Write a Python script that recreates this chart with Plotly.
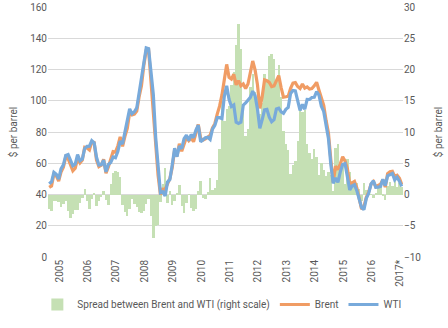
import plotly.graph_objects as go

# Monthly data, Jan 2005 - Jun 2017 ($ per barrel)
brent = [
    44.51, 45.48, 53.10, 51.88, 48.65, 54.35, 57.52, 63.98, 62.91, 58.54, 55.24, 56.86,
    62.99, 60.21, 62.06, 70.26, 69.78, 68.56, 73.67, 73.23, 61.96, 57.81, 58.76, 62.47,
    53.68, 57.56, 62.05, 67.49, 67.21, 71.05, 76.93, 70.76, 77.17, 82.34, 92.41, 90.93,
    91.45, 93.39, 102.59, 109.64, 122.80, 132.32, 132.72, 113.24, 97.23, 71.58, 52.45, 39.95,
    43.44, 43.32, 46.54, 50.18, 57.30, 68.61, 64.44, 72.51, 67.65, 72.77, 76.66, 74.46,
    76.17, 73.75, 78.83, 84.82, 75.95, 74.76, 75.58, 77.04, 77.84, 82.67, 85.28, 91.45,
    96.52, 103.72, 114.64, 123.26, 114.99, 113.83, 116.97, 110.22, 112.83, 109.55, 110.77, 107.87,
    110.69, 119.33, 125.45, 119.75, 110.34, 95.16, 102.62, 113.36, 112.86, 111.71, 109.06, 109.49,
    112.96, 116.05, 108.47, 102.25, 102.56, 102.92, 107.93, 111.28, 111.60, 109.08, 107.79, 110.76,
    108.12, 108.90, 107.48, 107.76, 109.54, 111.80, 106.77, 101.61, 97.09, 87.43, 79.44, 62.34,
    47.76, 58.10, 55.89, 59.52, 64.08, 61.48, 56.56, 46.52, 47.62, 48.43, 44.27, 38.01,
    30.70, 32.18, 38.21, 41.58, 46.74, 48.25, 44.95, 45.84, 46.57, 49.52, 44.73, 53.31,
    54.58, 54.87, 51.59, 52.31, 50.33, 46.37,
]
wti = [
    46.84, 48.15, 54.19, 52.98, 49.83, 56.35, 59.00, 64.99, 65.59, 62.26, 58.32, 59.41,
    65.49, 61.63, 62.69, 69.44, 70.84, 70.95, 74.41, 73.04, 63.80, 58.89, 59.08, 61.96,
    54.51, 59.28, 60.44, 63.98, 63.46, 67.49, 74.12, 72.36, 79.92, 85.80, 94.77, 91.69,
    92.97, 95.39, 105.45, 112.58, 125.40, 133.88, 133.37, 116.67, 104.11, 76.61, 57.31, 41.12,
    41.71, 39.09, 47.94, 49.65, 59.03, 69.64, 64.15, 71.05, 69.41, 75.72, 77.99, 74.47,
    78.33, 76.39, 81.20, 84.29, 73.74, 75.34, 76.32, 76.60, 75.24, 81.89, 84.25, 89.15,
    89.17, 88.58, 102.86, 109.53, 100.90, 96.26, 97.30, 86.33, 85.52, 86.32, 97.16, 98.56,
    100.27, 102.20, 106.16, 103.32, 94.66, 82.30, 87.90, 94.13, 94.51, 89.49, 86.53, 87.86,
    94.76, 95.31, 92.94, 92.02, 94.51, 95.77, 104.67, 106.57, 106.29, 100.54, 93.86, 97.63,
    94.62, 100.82, 100.80, 102.07, 102.18, 105.79, 103.59, 96.54, 93.21, 84.40, 75.79, 59.29,
    47.22, 50.58, 47.82, 54.45, 59.27, 59.82, 50.90, 42.87, 45.48, 46.22, 42.44, 37.19,
    31.68, 30.32, 37.55, 40.75, 46.71, 48.76, 44.65, 44.72, 45.18, 49.78, 45.66, 51.97,
    52.50, 53.47, 49.33, 51.06, 48.48, 45.18,
]
spread = [
    -2.33, -2.67, -1.09, -1.10, -1.18, -2.00, -1.48, -1.01, -2.68, -3.72, -3.08, -2.55,
    -2.50, -1.42, -0.63, 0.82, -1.06, -2.39, -0.74, 0.19, -1.84, -1.08, -0.32, 0.51,
    -0.83, -1.72, 1.61, 3.51, 3.75, 3.56, 2.81, -1.60, -2.75, -3.46, -2.36, -0.76,
    -1.52, -2.00, -2.86, -2.94, -2.60, -1.56, -0.65, -3.43, -6.88, -5.03, -4.86, -1.17,
    1.73, 4.23, -1.40, 0.53, -1.73, -1.03, 0.29, 1.46, -1.76, -2.95, -1.33, -0.01,
    -2.16, -2.64, -2.37, 0.53, 2.21, -0.58, -0.74, 0.44, 2.60, 0.78, 1.03, 2.30,
    7.35, 15.14, 11.78, 13.73, 14.09, 17.57, 19.67, 23.89, 27.31, 23.23, 13.61, 9.31,
    10.42, 17.13, 19.29, 16.43, 15.68, 12.86, 14.72, 19.23, 18.35, 22.22, 22.53, 21.63,
    18.20, 20.74, 15.53, 10.23, 8.05, 7.15, 3.26, 4.71, 5.31, 8.54, 13.93, 13.13,
    13.50, 8.08, 6.68, 5.69, 7.36, 6.01, 3.18, 5.07, 3.88, 3.03, 3.65, 3.05,
    0.54, 7.52, 8.07, 5.07, 4.81, 1.66, 5.66, 3.65, 2.14, 2.21, 1.83, 0.82,
    -0.98, 1.86, 0.66, 0.83, 0.03, -0.51, 0.30, 1.12, 1.39, -0.26, -0.93, 1.34,
    2.08, 1.40, 2.26, 1.25, 1.85, 1.19,
]
year_labels = ["2005", "2006", "2007", "2008", "2009", "2010", "2011",
               "2012", "2013", "2014", "2015", "2016", "2017*"]

months = list(range(len(brent)))
label_offset = 4.3
tickvals = [i * 12 + label_offset for i in range(len(year_labels))]

font = dict(family="Roboto, Liberation Sans, sans-serif", size=10, color="#595959")

fig = go.Figure()
fig.add_trace(go.Bar(
    x=months, y=spread, name="Spread between Brent and WTI (right scale)",
    marker=dict(color="#C5E0B4", line=dict(width=0)), yaxis="y",
))
fig.add_trace(go.Scatter(
    x=months, y=brent, name="Brent", mode="lines",
    line=dict(color="#F09C64", width=3.2), yaxis="y2",
))
fig.add_trace(go.Scatter(
    x=months, y=wti, name="WTI", mode="lines",
    line=dict(color="#78AADB", width=3.2), yaxis="y2",
))

fig.update_layout(
    width=448, height=328,
    margin=dict(l=48, r=45, t=7, b=71, autoexpand=False),
    paper_bgcolor="white", plot_bgcolor="white",
    font=font,
    bargap=0,
    showlegend=True,
    legend=dict(orientation="h", x=-0.03, xanchor="left",
                y=-0.19, yanchor="middle", bgcolor="rgba(0,0,0,0)",
                font=font, itemwidth=30, tracegroupgap=0, traceorder="normal"),
    xaxis=dict(range=[-0.5, len(brent) - 0.5], tickmode="array", tickvals=tickvals,
               ticktext=year_labels, tickangle=-90, showgrid=False, zeroline=False,
               showline=False, ticks="", tickfont=font),
    yaxis=dict(side="right", range=[-10, 30], dtick=5, showgrid=True, gridcolor="#D9D9D9",
               gridwidth=1, zeroline=False, showline=False, ticks="", tickfont=font,
               title=dict(text="$ per barrel", font=font, standoff=14)),
    yaxis2=dict(side="left", overlaying="y", range=[0, 160], dtick=20, showgrid=False,
                zeroline=False, showline=False, ticks="", tickfont=font,
                title=dict(text="$ per barrel", font=font, standoff=10)),
)

fig.write_html("out.html")
